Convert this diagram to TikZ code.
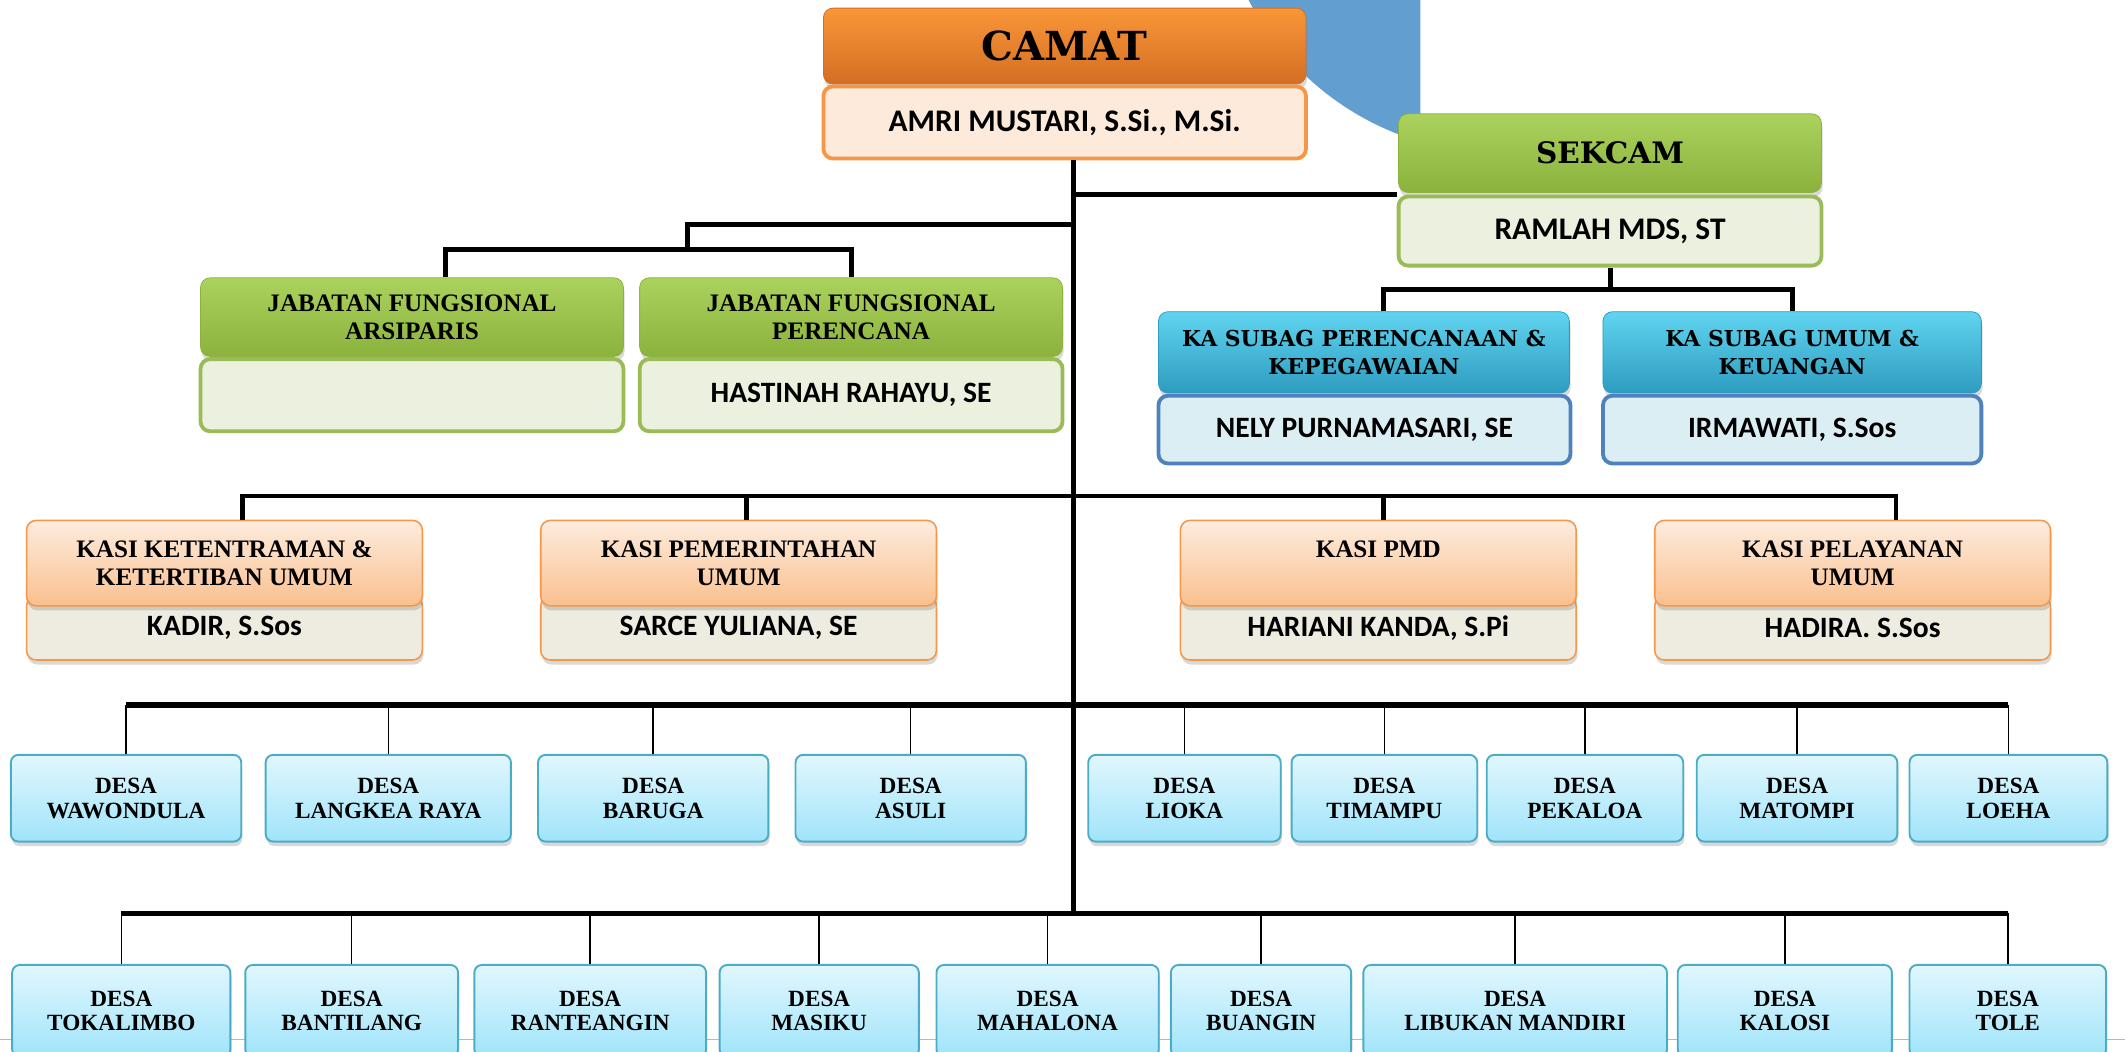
\documentclass[tikz,border=0pt]{standalone}
\usepackage{fontspec}
\setmainfont{Liberation Serif}
\newfontfamily\namefont{Carlito}
\newfontfamily\headfont{DejaVu Serif}
\usetikzlibrary{shadows}

\definecolor{camattop}{RGB}{249,150,55}
\definecolor{camatbot}{RGB}{212,110,36}
\definecolor{camatname}{RGB}{253,234,218}
\definecolor{orangeline}{RGB}{247,150,70}
\definecolor{blob}{RGB}{98,158,208}
\definecolor{greentop}{RGB}{170,210,92}
\definecolor{greenbot}{RGB}{140,178,62}
\definecolor{greenname}{RGB}{235,241,222}
\definecolor{greenline}{RGB}{155,187,89}
\definecolor{cyantop}{RGB}{96,212,240}
\definecolor{cyanbot}{RGB}{46,156,192}
\definecolor{cyanname}{RGB}{219,238,244}
\definecolor{blueline}{RGB}{79,129,189}
\definecolor{peachtop}{RGB}{253,236,222}
\definecolor{peachbot}{RGB}{250,192,143}
\definecolor{kasiname}{RGB}{238,236,225}
\definecolor{desatop}{RGB}{225,247,254}
\definecolor{desabot}{RGB}{160,228,250}
\definecolor{desaline}{RGB}{75,172,198}

\begin{document}
\begin{tikzpicture}[
  unit/.style={rounded corners=5pt, inner sep=0pt, align=center},
  softshadow/.style={drop shadow={shadow xshift=0.6pt, shadow yshift=-2.4pt, opacity=0.3}},
  namebox/.style={unit, line width=2pt, font=\namefont\bfseries\fontsize{15.5}{17}\selectfont},
  jobfont/.style={font=\bfseries\fontsize{13.2}{14.4}\selectfont},
  greenfill/.style={draw=greenbot, top color=greentop, bottom color=greenbot},
  cyanfill/.style={draw=cyanbot, top color=cyantop, bottom color=cyanbot},
  jabhd/.style={unit, softshadow, greenfill, jobfont, minimum width=7.8cm, minimum height=1.45cm},
  jabnm/.style={namebox, draw=greenline, fill=greenname, minimum width=7.8cm, minimum height=1.33cm},
  subhd/.style={unit, softshadow, cyanfill, minimum height=1.5cm,
                font=\headfont\bfseries\fontsize{11.5}{14.5}\selectfont},
  subnm/.style={namebox, draw=blueline, fill=cyanname, minimum height=1.25cm},
  kasihd/.style={unit, softshadow, jobfont, draw=orangeline, line width=0.8pt,
                 top color=peachtop, bottom color=peachbot, minimum width=7.3cm, minimum height=1.575cm},
  kasinm/.style={unit, softshadow, draw=orangeline, line width=0.8pt, fill=kasiname,
                 minimum width=7.3cm, minimum height=1.175cm,
                 font=\namefont\bfseries\fontsize{15.5}{17}\selectfont},
  desa/.style={unit, softshadow, rounded corners=4pt, draw=desaline, line width=1pt,
               top color=desatop, bottom color=desabot, font=\bfseries\fontsize{12.2}{13}\selectfont},
  desaA/.style={desa, minimum height=1.6cm},
  desaB/.style={desa, minimum height=1.7cm},
  link/.style={line width=2.6pt},
  desabar/.style={line width=3pt},
  desadrop/.style={line width=0.8pt},
]
  \clip (0,0) rectangle (39.2,-19.4);

  % background disc
  \begin{scope}
    \clip (0,0) rectangle (26.2,-19.4);
    \fill[blob] (27.675,2.4) circle[radius=5.225];
  \end{scope}
  \draw[gray!55, line width=0.5pt] (0,-19.175) -- (39.2,-19.175);

  % camat and sekcam
  \node[unit, softshadow, draw=camatbot, top color=camattop, bottom color=camatbot,
        font=\headfont\bfseries\fontsize{21}{24}\selectfont,
        minimum width=8.9cm, minimum height=1.4cm] (camat) at (19.64,-0.85) {CAMAT};
  \node[namebox, draw=orangeline, fill=camatname, font=\namefont\bfseries\fontsize{16.5}{18}\selectfont,
        minimum width=8.9cm, minimum height=1.33cm] (camatnm) at (19.64,-2.26) {AMRI MUSTARI, S.Si., M.Si.};

  \node[unit, softshadow, greenfill, font=\headfont\bfseries\fontsize{15.5}{18}\selectfont,
        minimum width=7.8cm, minimum height=1.45cm] (sekcam) at (29.7,-2.825) {SEKCAM};
  \node[namebox, draw=greenline, fill=greenname, font=\namefont\bfseries\fontsize{16.5}{18}\selectfont,
        minimum width=7.8cm, minimum height=1.275cm] (sekcamnm) at (29.7,-4.2625) {RAMLAH MDS, ST};

  % jabatan fungsional
  \node[jabhd] (jfA) at (7.6,-5.85) {JABATAN FUNGSIONAL\\ARSIPARIS};
  \node[jabnm] (jfAnm) at (7.6,-7.29) {};
  \node[jabhd] (jfB) at (15.7,-5.85) {JABATAN FUNGSIONAL\\PERENCANA};
  \node[jabnm] (jfBnm) at (15.7,-7.29) {HASTINAH RAHAYU, SE};

  % subag
  \node[subhd, minimum width=7.58cm] (sbA) at (25.16,-6.5) {KA SUBAG PERENCANAAN \&\\KEPEGAWAIAN};
  \node[subnm, minimum width=7.6cm] (sbAnm) at (25.17,-7.925) {NELY PURNAMASARI, SE};
  \node[subhd, minimum width=6.98cm] (sbB) at (33.06,-6.5) {KA SUBAG UMUM \&\\KEUANGAN};
  \node[subnm, minimum width=6.98cm] (sbBnm) at (33.06,-7.925) {IRMAWATI, S.Sos};

  % kasi
  \node[kasinm] (ksAnm) at (4.14,-11.5875) {KADIR, S.Sos};
  \node[kasihd] (ksA) at (4.14,-10.3875) {KASI KETENTRAMAN \&\\KETERTIBAN UMUM};
  \node[kasinm] (ksBnm) at (13.625,-11.5875) {SARCE YULIANA, SE};
  \node[kasihd] (ksB) at (13.625,-10.3875) {KASI PEMERINTAHAN\\UMUM};
  \node[kasinm] (ksCnm) at (25.425,-11.5875) {HARIANI KANDA, S.Pi};
  \node[kasihd] (ksC) at (25.425,-10.3875) {KASI PMD\\\phantom{U}};
  \node[kasinm] (ksDnm) at (34.175,-11.5875) {HADIRA. S.Sos};
  \node[kasihd] (ksD) at (34.175,-10.3875) {KASI PELAYANAN\\UMUM};

  % desa, first row
  \node[desaA, minimum width=4.25cm] (wawondula) at (2.325,-14.725) {DESA\\WAWONDULA};
  \node[desaA, minimum width=4.525cm] (langkea) at (7.1625,-14.725) {DESA\\LANGKEA RAYA};
  \node[desaA, minimum width=4.25cm] (baruga) at (12.05,-14.725) {DESA\\BARUGA};
  \node[desaA, minimum width=4.25cm] (asuli) at (16.8,-14.725) {DESA\\ASULI};
  \node[desaA, minimum width=3.55cm] (lioka) at (21.85,-14.725) {DESA\\LIOKA};
  \node[desaA, minimum width=3.425cm] (timampu) at (25.5375,-14.725) {DESA\\TIMAMPU};
  \node[desaA, minimum width=3.625cm] (pekaloa) at (29.2375,-14.725) {DESA\\PEKALOA};
  \node[desaA, minimum width=3.7cm] (matompi) at (33.15,-14.725) {DESA\\MATOMPI};
  \node[desaA, minimum width=3.65cm] (loeha) at (37.05,-14.725) {DESA\\LOEHA};

  % desa, second row
  \node[desaB, minimum width=4.025cm] (tokalimbo) at (2.2375,-18.65) {DESA\\TOKALIMBO};
  \node[desaB, minimum width=3.925cm] (bantilang) at (6.4875,-18.65) {DESA\\BANTILANG};
  \node[desaB, minimum width=4.275cm] (ranteangin) at (10.8875,-18.65) {DESA\\RANTEANGIN};
  \node[desaB, minimum width=3.675cm] (masiku) at (15.1125,-18.65) {DESA\\MASIKU};
  \node[desaB, minimum width=4.1cm] (mahalona) at (19.325,-18.65) {DESA\\MAHALONA};
  \node[desaB, minimum width=3.325cm] (buangin) at (23.2625,-18.65) {DESA\\BUANGIN};
  \node[desaB, minimum width=5.6cm] (libukan) at (27.95,-18.65) {DESA\\LIBUKAN MANDIRI};
  \node[desaB, minimum width=3.95cm] (kalosi) at (32.925,-18.65) {DESA\\KALOSI};
  \node[desaB, minimum width=3.625cm] (tole) at (37.0375,-18.65) {DESA\\TOLE};

  % connectors
  \coordinate (trunk) at (19.8,-16.85);
  \draw[link] (camatnm.south -| trunk) -- (trunk);
  \draw[link] (sekcamnm.north west -| trunk) -- (sekcamnm.north west);

  \coordinate (jfjoin) at (12.675,-4.15);
  \draw[link] (jfjoin -| trunk) -- (jfjoin) -- ++(0,-0.45) coordinate (jfbar);
  \draw[link] ([xshift=0.625cm]jfA.north) |- (jfbar) -| (jfB.north);

  \draw[link] (sekcamnm.south) -- ++(0,-0.4) coordinate (sbbar);
  \draw[link] ([xshift=0.36cm]sbA.north) |- (sbbar) -| (sbB.north);

  \coordinate (ksbar) at (19.8,-9.15);
  \draw[link] ([xshift=0.34cm]ksA.north) |- (ksbar) -| ([xshift=0.8cm]ksD.north);
  \draw[link] ([xshift=0.15cm]ksB.north) -- ++(0,0.45);
  \draw[link] ([xshift=0.1cm]ksC.north) -- ++(0,0.45);

  \coordinate (bar1) at (19.8,-13);
  \draw[desabar] (bar1 -| wawondula.north) -- (bar1 -| loeha.north);
  \foreach \d in {wawondula,langkea,baruga,asuli,lioka,timampu,pekaloa,matompi,loeha}
    \draw[desadrop] (\d.north) -- (\d.north |- bar1);

  \draw[desabar] (trunk -| tokalimbo.north) -- (trunk -| tole.north);
  \foreach \d in {tokalimbo,bantilang,ranteangin,masiku,mahalona,buangin,libukan,kalosi,tole}
    \draw[desadrop] (\d.north) -- (\d.north |- trunk);
\end{tikzpicture}
\end{document}
